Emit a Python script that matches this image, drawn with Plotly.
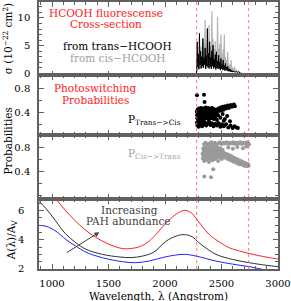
import plotly.graph_objects as go

# ---------------- data ----------------
# Panel 1: fluorescence cross-section spectra (1e-22 cm^2)
trans_wl = [2278, 2280, 2285, 2290, 2295, 2300, 2305, 2310, 2315, 2320, 2325, 2330, 2335, 2340, 2345,
            2350, 2355, 2360, 2365, 2370, 2375, 2380, 2385, 2390, 2395, 2400, 2405, 2410, 2415,
            2420, 2425, 2430, 2435, 2440, 2445, 2450, 2455, 2460, 2465, 2470, 2475, 2480, 2485,
            2490, 2495, 2500, 2505, 2510, 2515, 2520, 2525, 2530, 2535, 2540, 2545, 2550, 2555,
            2560, 2565, 2570, 2575, 2580, 2585, 2590, 2595, 2600, 2610, 2620, 2630, 2640, 2650,
            2660, 2670]
trans_sigma = [0.0, 0.5, 5.7, 1.2, 3.5, 0.8, 7.2, 1.5, 4.0, 0.9, 3.0, 1.3, 6.3, 1.0, 2.8,
               1.6, 4.6, 0.8, 3.2, 1.4, 8.1, 1.1, 3.6, 0.9, 5.7, 1.2, 2.9, 0.8, 4.1,
               1.3, 5.1, 0.9, 2.6, 1.1, 3.4, 0.7, 3.9, 1.0, 2.2, 0.8, 3.3, 0.9, 2.0,
               0.6, 2.7, 0.8, 1.6, 0.6, 2.4, 0.7, 1.4, 0.5, 1.8, 0.6, 1.1, 0.5, 1.3,
               0.4, 0.9, 0.4, 0.8, 0.3, 0.6, 0.3, 0.5, 0.25, 0.4, 0.2, 0.35, 0.2, 0.3,
               0.1, 0.0]

cis_wl = [2285, 2290, 2295, 2300, 2305, 2310, 2315, 2320, 2325, 2330, 2335, 2340, 2345, 2350,
          2355, 2360, 2365, 2370, 2375, 2380, 2385, 2390, 2395, 2400, 2405, 2410, 2415, 2420,
          2425, 2430, 2435, 2440, 2445, 2450, 2455, 2460, 2465, 2470, 2475, 2480, 2485, 2490,
          2495, 2500, 2505, 2510, 2515, 2520, 2525, 2530, 2535, 2540, 2545, 2550, 2555, 2560,
          2565, 2570, 2575, 2580, 2585, 2590, 2595, 2600, 2605, 2610, 2615, 2620, 2630, 2640,
          2650, 2656, 2665, 2675, 2685]
cis_sigma = [0.3, 2.0, 0.6, 3.5, 0.8, 2.6, 1.0, 4.8, 0.9, 3.1, 1.2, 5.5, 1.0, 3.4,
             9.6, 1.3, 4.2, 1.1, 6.0, 1.5, 3.8, 8.7, 1.2, 5.0, 1.4, 3.6, 11.2, 1.3,
             6.2, 1.5, 4.4, 1.2, 5.8, 1.4, 3.9, 1.1, 10.2, 1.6, 4.5, 1.2, 5.3, 1.0,
             7.0, 1.3, 3.6, 0.9, 4.4, 1.1, 7.0, 0.9, 3.0, 0.8, 2.4, 0.7, 3.9, 0.6,
             1.8, 0.5, 1.5, 0.5, 2.4, 0.4, 1.1, 0.4, 0.9, 0.3, 1.25, 0.3, 0.6, 0.25,
             0.4, 0.35, 0.15, 0.1, 0.0]

# Panel 2: P(trans->cis)
p_tc_wl = [2282, 2284, 2286, 2288, 2290, 2292, 2294, 2296, 2298, 2300, 2303, 2305, 2308, 2310, 2313,
           2316, 2318, 2321, 2324, 2327, 2330, 2333, 2336, 2339, 2342, 2345, 2348, 2351, 2354,
           2357, 2360, 2363, 2366, 2369, 2372, 2375, 2378, 2381, 2384, 2387, 2390, 2393, 2396,
           2399, 2402, 2405, 2408, 2411, 2414, 2417, 2420, 2424, 2428, 2432, 2436, 2440, 2444,
           2448, 2452, 2456, 2460,
           2465, 2472, 2478, 2485, 2492, 2498, 2505, 2512, 2518, 2525, 2532, 2540, 2548, 2556,
           2565, 2574, 2583, 2592, 2600, 2610, 2618,
           2470, 2490, 2510, 2530, 2550, 2575, 2520,
           2283, 2287, 2292, 2298, 2305, 2312, 2320, 2328, 2336, 2345, 2355, 2365, 2378, 2390,
           2402, 2415, 2430, 2445, 2460, 2475, 2490, 2505, 2520, 2540, 2560, 2580, 2598, 2615,
           2632, 2645,
           2283, 2345, 2350]
p_tc = [0.42, 0.36, 0.31, 0.45, 0.39, 0.33, 0.28, 0.43, 0.37, 0.47, 0.34, 0.41, 0.30, 0.45, 0.38,
        0.32, 0.48, 0.42, 0.35, 0.29, 0.44, 0.39, 0.47, 0.33, 0.41, 0.36, 0.30, 0.45, 0.40,
        0.34, 0.49, 0.43, 0.37, 0.31, 0.46, 0.40, 0.35, 0.48, 0.42, 0.29, 0.38, 0.45, 0.33,
        0.41, 0.47, 0.36, 0.31, 0.43, 0.39, 0.48, 0.34, 0.44, 0.40, 0.30, 0.46, 0.37, 0.42,
        0.33, 0.45, 0.39, 0.28,
        0.44, 0.47, 0.43, 0.46, 0.49, 0.44, 0.47, 0.50, 0.45, 0.48, 0.51, 0.47, 0.50, 0.52,
        0.48, 0.51, 0.53, 0.50, 0.52, 0.54, 0.51,
        0.36, 0.32, 0.38, 0.30, 0.35, 0.26, 0.27,
        0.24, 0.19, 0.22, 0.17, 0.24, 0.20, 0.23, 0.18, 0.25, 0.21, 0.24, 0.19, 0.22, 0.25,
        0.20, 0.23, 0.18, 0.22, 0.19, 0.23, 0.17, 0.21, 0.18, 0.21, 0.16, 0.19, 0.15, 0.18,
        0.16, 0.15,
        0.69, 0.70, 0.58]

# Panel 3: P(cis->trans)
p_ct_wl = [2345, 2360, 2378, 2395, 2410, 2425, 2440, 2455, 2470, 2485, 2500, 2515, 2530, 2545,
           2560, 2575, 2590, 2605, 2620, 2635, 2650, 2665, 2680, 2695, 2710, 2725, 2738, 2742,
           2332, 2335, 2338, 2341, 2344, 2347, 2350, 2353, 2356, 2359, 2362, 2365, 2368, 2371,
           2374, 2377, 2380, 2383, 2386, 2389, 2392, 2395, 2398, 2401, 2404, 2407, 2410, 2413,
           2416, 2419, 2422, 2425, 2428, 2431, 2434, 2437, 2440, 2443, 2446, 2449, 2452, 2455,
           2458, 2461, 2464, 2467, 2470, 2474, 2478, 2482, 2486, 2490, 2494, 2498, 2502, 2506,
           2510, 2514, 2518,
           2525, 2532, 2540, 2548, 2556, 2564, 2572, 2580, 2588, 2596, 2604, 2612, 2620, 2628,
           2636, 2644, 2652, 2660, 2668, 2676, 2684, 2692, 2700, 2708, 2716, 2724, 2732, 2740,
           2560, 2600, 2640, 2690, 2720,
           2427, 2348, 2407]
p_ct = [0.86, 0.88, 0.85, 0.87, 0.89, 0.86, 0.88, 0.85, 0.87, 0.89, 0.86, 0.88, 0.87, 0.89,
        0.86, 0.88, 0.87, 0.89, 0.86, 0.88, 0.87, 0.89, 0.86, 0.88, 0.87, 0.89, 0.87, 0.85,
        0.70, 0.62, 0.78, 0.66, 0.74, 0.58, 0.81, 0.69, 0.63, 0.76, 0.72, 0.67, 0.80, 0.60,
        0.74, 0.70, 0.65, 0.83, 0.77, 0.56, 0.71, 0.68, 0.79, 0.62, 0.75, 0.73, 0.66, 0.81,
        0.70, 0.59, 0.77, 0.64, 0.72, 0.69, 0.82, 0.75, 0.61, 0.71, 0.67, 0.78, 0.74, 0.63,
        0.70, 0.80, 0.66, 0.73, 0.58, 0.76, 0.69, 0.64, 0.72, 0.79, 0.67, 0.74, 0.61, 0.70,
        0.76, 0.65, 0.72,
        0.68, 0.63, 0.70, 0.66, 0.61, 0.68, 0.64, 0.59, 0.66, 0.62, 0.57, 0.63, 0.59, 0.55,
        0.61, 0.57, 0.53, 0.59, 0.55, 0.52, 0.57, 0.53, 0.50, 0.55, 0.52, 0.49, 0.53, 0.50,
        0.80, 0.78, 0.81, 0.79, 0.82,
        0.44, 0.32, 0.31]

# Panel 4: extinction curves A(lambda)/Av
ext_red_wl = [980, 1064, 1153, 1241, 1329, 1446, 1550, 1640, 1740, 1800, 1860, 1930, 2010, 2100,
              2170, 2230, 2290, 2392, 2480, 2568, 2650, 2744, 2870, 3000]
ext_red = [7.35, 6.5, 5.71, 5.03, 4.46, 3.9, 3.55, 3.38, 3.45, 3.6, 3.9, 4.45, 5.14, 5.75,
           6.0, 5.85, 5.3, 4.35, 3.85, 3.45, 3.25, 3.06, 2.85, 2.68]
ext_black_wl = [885, 950, 1030, 1120, 1210, 1300, 1446, 1600, 1700, 1800, 1900, 2010, 2100,
                2170, 2240, 2300, 2350, 2451, 2600, 2744, 2900, 3000]
ext_black = [6.62, 6.1, 5.3, 4.4, 3.8, 3.35, 3.0, 2.82, 2.78, 2.88, 3.15, 3.9, 4.25,
             4.35, 4.2, 3.8, 3.5, 3.0, 2.65, 2.43, 2.25, 2.16]
ext_blue_wl = [885, 947, 1035, 1123, 1211, 1300, 1446, 1623, 1740, 1863, 2010, 2170, 2275,
               2451, 2600, 2744, 2891, 3000]
ext_blue = [4.98, 4.92, 4.58, 4.01, 3.56, 3.15, 2.77, 2.50, 2.43, 2.55, 2.84, 3.0, 2.88,
            2.54, 2.33, 2.16, 1.93, 1.80]

window_edges = [2280, 2740]

# ---------------- figure ----------------
FONT = "DejaVu Serif"
RED = "#ff2020"
GRAY = "#a0a0a0"
AX = "#606060"

fig = go.Figure()

fig.add_trace(go.Scatter(x=cis_wl, y=cis_sigma, mode="lines", line=dict(color="#b4b4b4", width=1.2),
                         xaxis="x", yaxis="y", showlegend=False))
fig.add_trace(go.Scatter(x=trans_wl, y=trans_sigma, mode="lines", line=dict(color="black", width=1),
                         xaxis="x", yaxis="y", showlegend=False))
fig.add_trace(go.Scatter(x=p_tc_wl, y=p_tc, mode="markers", marker=dict(color="black", size=4),
                         xaxis="x2", yaxis="y2", showlegend=False))
fig.add_trace(go.Scatter(x=p_ct_wl, y=p_ct, mode="markers", marker=dict(color="#9a9a9a", size=4),
                         xaxis="x3", yaxis="y3", showlegend=False))
fig.add_trace(go.Scatter(x=ext_red_wl, y=ext_red, mode="lines", line=dict(color=RED, width=1, shape="spline"),
                         xaxis="x4", yaxis="y4", showlegend=False))
fig.add_trace(go.Scatter(x=ext_black_wl, y=ext_black, mode="lines", line=dict(color="#303030", width=1, shape="spline"),
                         xaxis="x4", yaxis="y4", showlegend=False))
fig.add_trace(go.Scatter(x=ext_blue_wl, y=ext_blue, mode="lines", line=dict(color="#2020ff", width=1, shape="spline"),
                         xaxis="x4", yaxis="y4", showlegend=False))

H = 269.0
doms = [[(H - 74) / H, 1.0], [(H - 134) / H, (H - 74) / H], [(H - 198.3) / H, (H - 134) / H], [0.0, (H - 198.3) / H]]
yranges = [[-0.36, 12.86], [0.034, 1.018], [-0.049, 1.009], [2.0, 6.79]]
ymajor = [[0, 5, 10], [0.4, 0.8], [0.4, 0.8], [2, 4, 6]]
yminor = [1, 0.2, 0.2, 0.5]
ystand = [5, 5, 5, 11]

common = dict(showline=True, linecolor=AX, linewidth=1.5, mirror="allticks", ticks="inside",
              tickcolor=AX, tickwidth=1, ticklen=5, showgrid=False, zeroline=False,
              tickfont=dict(family=FONT, size=10, color="black"))

layout = dict(width=291, height=301, margin=dict(l=39, r=13, t=0, b=32),
              paper_bgcolor="white", plot_bgcolor="white", showlegend=False)

for i in range(4):
    n = "" if i == 0 else str(i + 1)
    layout["xaxis" + n] = dict(common, domain=[0, 1], anchor="y" + n, range=[885, 3000],
                               tickvals=[1000, 1500, 2000, 2500, 3000],
                               showticklabels=(i == 3), ticklabelstandoff=4,
                               minor=dict(ticks="inside", ticklen=3, dtick=100, tick0=0, tickcolor=AX))
    layout["yaxis" + n] = dict(common, domain=doms[i], anchor="x" + n, range=yranges[i],
                               tickvals=ymajor[i], ticklabelstandoff=ystand[i],
                               minor=dict(ticks="inside", ticklen=3, dtick=yminor[i], tick0=0, tickcolor=AX))

fig.update_layout(**layout)

for wl in window_edges:
    fig.add_shape(type="line", xref="x", yref="paper", x0=wl, x1=wl, y0=0, y1=1,
                  line=dict(color="rgba(255,70,70,0.6)", width=1.2, dash="dot"))

def px2paper(px, py):
    return (px - 39) / 239.0, (H - py) / H

def note(text, px, py, color="black", size=10.5, xanchor="center", angle=0):
    x, y = px2paper(px, py)
    fig.add_annotation(text=text, x=x, y=y, xref="paper", yref="paper", showarrow=False,
                       xanchor=xanchor, yanchor="middle", textangle=angle,
                       font=dict(family=FONT, size=size, color=color))

note("HCOOH fluorescense", 106, 11, RED)
note("Cross-section", 105.5, 22.5, RED)
note("from trans\u2212HCOOH", 117.5, 44.3, "black")
note("from cis\u2212HCOOH", 118, 56, GRAY)
note("Photoswitching", 95, 87, RED)
note("Probabilities", 95, 98.3, RED)
note("P<sub>Trans\u2212>Cis</sub>", 126, 118.5, "black", xanchor="left")
note("P<sub>Cis\u2212>Trans</sub>", 126, 153.5, GRAY, xanchor="left")
note("Increasing", 129.3, 209.3, "#404040")
note("PAH abundance", 128, 221, "#404040")

note("\u03c3 (10<sup>\u221222</sup> cm<sup>2</sup>)", 7.5, 37, angle=-90)
note("Probabilities", 7.5, 140, angle=-90)
note("A(\u03bb)/A<sub>V</sub>", 12, 240, angle=-90)
note("Wavelength, \u03bb (Angstrom)", 158.5, 296)

fig.add_annotation(x=1419, y=4.51, ax=1118, ay=3.06, xref="x4", yref="y4", axref="x4", ayref="y4",
                   showarrow=True, arrowhead=2, arrowsize=1, arrowwidth=1, arrowcolor="#404040", text="")

fig.write_html("out.html", config={"displayModeBar": False},
               post_script="document.body.style.margin='0';document.body.style.overflow='hidden';")
